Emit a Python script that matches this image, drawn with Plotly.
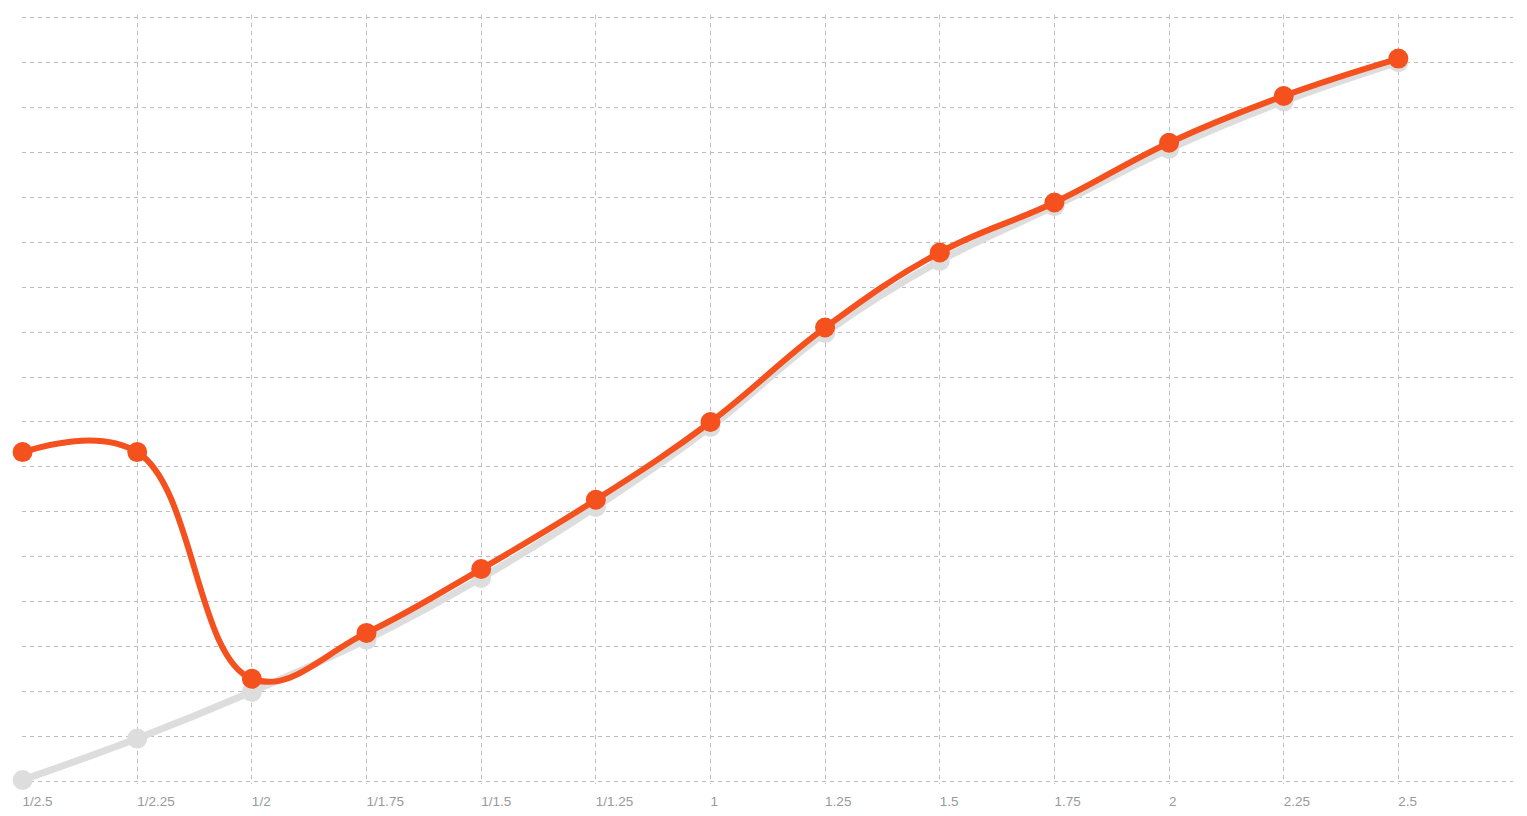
import plotly.graph_objects as go

categories = ["1/2.5", "1/2.25", "1/2", "1/1.75", "1/1.5", "1/1.25", "1",
              "1.25", "1.5", "1.75", "2", "2.25", "2.5"]
series_gray = [0.04, 0.96, 2.0, 3.16, 4.53, 6.11, 7.89, 9.98, 11.58, 12.8, 14.07, 15.13, 16.0]
series_orange = [7.33, 7.33, 2.29, 3.31, 4.73, 6.27, 8.0, 10.1, 11.77, 12.88, 14.21, 15.25, 16.08]

xidx = list(range(len(categories)))

fig = go.Figure()
fig.add_trace(go.Scatter(
    x=xidx, y=series_gray, mode="lines+markers",
    line=dict(color="#dddddd", width=7, shape="spline", smoothing=1.1),
    marker=dict(color="#dddddd", size=20),
    cliponaxis=False, hoverinfo="skip", showlegend=False))
fig.add_trace(go.Scatter(
    x=xidx, y=series_orange, mode="lines+markers",
    line=dict(color="#f4511e", width=6, shape="spline", smoothing=1.15),
    marker=dict(color="#f4511e", size=20),
    cliponaxis=False, hoverinfo="skip", showlegend=False))

grid = dict(showgrid=True, gridcolor="#bdbdbd", gridwidth=1, griddash="4px,4px",
            zeroline=False, showline=False)

fig.update_layout(
    width=1519, height=808,
    margin=dict(l=14, r=14, t=7, b=32),
    paper_bgcolor="white", plot_bgcolor="white",
    xaxis=dict(range=[-0.005, 13], tickmode="array", tickvals=xidx, ticktext=categories,
               ticks="", ticklabelposition="outside right", ticklabelstandoff=7,
               tickfont=dict(family="Liberation Sans, Arial, sans-serif", size=13.5, color="#999999"),
               **grid),
    yaxis=dict(range=[-0.05, 17.05], tickmode="array", tickvals=list(range(0, 18)),
               showticklabels=False, ticks="", **grid),
)

fig.write_html("out.html")
